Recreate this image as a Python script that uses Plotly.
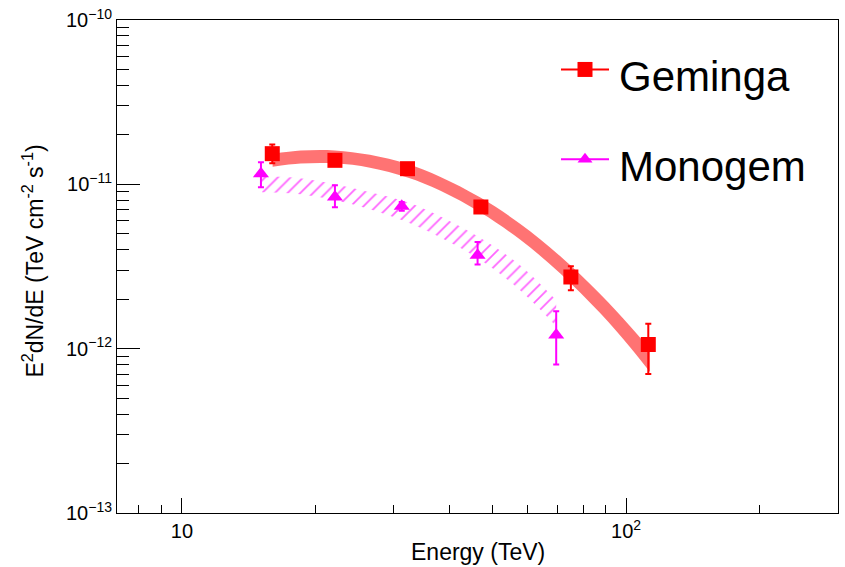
import plotly.graph_objects as go
import math

# ---------------- data ----------------
gem_E = [15.97, 22.1, 32.2, 47.1, 75.1, 112.2]
gem_F = [1.537e-11, 1.40e-11, 1.245e-11, 7.28e-12, 2.73e-12, 1.06e-12]
gem_err_up = [0.21e-11, 0.08e-11, 0.07e-11, 0.4e-12, 0.44e-12, 0.36e-12]
gem_err_dn = [0.195e-11, 0.08e-11, 0.07e-11, 0.4e-12, 0.46e-12, 0.36e-12]

mono_E = [15.06, 22.1, 31.25, 46.3, 69.6]
mono_F = [1.161e-11, 8.37e-12, 7.35e-12, 3.70e-12, 1.21e-12]
mono_err_up = [0.20e-11, 1.49e-12, 0.45e-12, 0.76e-12, 0.48e-12]
mono_err_dn = [0.20e-11, 1.12e-12, 0.45e-12, 0.45e-12, 0.41e-12]

# fitted-spectrum bands
gem_band_E = [16.0, 18.5, 22.1, 26.5, 32.2, 38.1, 47.1, 57.7, 71.0, 87.4, 102.1, 113.2]
gem_band_hi = [1.532e-11, 1.605e-11, 1.609e-11, 1.513e-11, 1.328e-11, 1.114e-11,
               8.28e-12, 5.76e-12, 3.66e-12, 2.15e-12, 1.37e-12, 9.93e-13]
gem_band_lo = [1.278e-11, 1.338e-11, 1.342e-11, 1.262e-11, 1.099e-11, 9.16e-12,
               6.71e-12, 4.61e-12, 2.88e-12, 1.648e-12, 1.021e-12, 7.20e-13]

mono_band_E = [15.14, 18.45, 22.1, 26.5, 32.2, 38.1, 47.1, 57.7, 69.6]
mono_band_hi = [1.118e-11, 1.088e-11, 1.0e-11, 8.94e-12, 7.77e-12, 6.39e-12,
                4.70e-12, 3.22e-12, 1.97e-12]
mono_band_lo = [8.94e-12, 8.69e-12, 7.99e-12, 7.05e-12, 5.87e-12, 4.76e-12,
                3.45e-12, 2.27e-12, 1.37e-12]

x_major = [10, 100]
x_major_text = ["10", "10<sup>2</sup>"]
x_minor = [8, 9, 20, 30, 40, 50, 60, 70, 80, 90, 200]
y_major = [1e-13, 1e-12, 1e-11, 1e-10]
y_major_text = ["10<sup>\u221213</sup>", "10<sup>\u221212</sup>",
                "10<sup>\u221211</sup>", "10<sup>\u221210</sup>"]
y_minor = [m * 10.0 ** e for e in (-13, -12, -11) for m in range(2, 10)]

series_names = ["Geminga", "Monogem"]
RED = "#ff0000"
MAG = "#ff00ff"
FONT = "Liberation Sans, Arial, Helvetica, sans-serif"

fig = go.Figure()

# Geminga band (solid)
fig.add_trace(go.Scatter(x=gem_band_E, y=gem_band_lo, mode="lines",
                         line=dict(width=0, shape="spline", color=RED),
                         showlegend=False, hoverinfo="skip"))
fig.add_trace(go.Scatter(x=gem_band_E, y=gem_band_hi, mode="lines",
                         line=dict(width=0, shape="spline", color=RED),
                         fill="tonexty", fillcolor="rgba(255,0,0,0.55)",
                         showlegend=False, hoverinfo="skip"))

# Monogem band (hatched)
fig.add_trace(go.Scatter(x=mono_band_E, y=mono_band_lo, mode="lines",
                         line=dict(width=0, shape="spline", color=MAG),
                         showlegend=False, hoverinfo="skip"))
fig.add_trace(go.Scatter(x=mono_band_E, y=mono_band_hi, mode="lines",
                         line=dict(width=0, shape="spline", color=MAG),
                         fill="tonexty", fillcolor="rgba(255,0,255,0.55)",
                         fillpattern=dict(shape="/", size=9, solidity=0.2,
                                          fgcolor="rgba(255,0,255,0.6)",
                                          bgcolor="rgba(255,255,255,0)",
                                          fillmode="replace"),
                         showlegend=False, hoverinfo="skip"))

# data points
fig.add_trace(go.Scatter(x=gem_E, y=gem_F, mode="markers", name=series_names[0],
                         marker=dict(symbol="square", size=15, color=RED),
                         error_y=dict(type="data", symmetric=False, array=gem_err_up,
                                      arrayminus=gem_err_dn, color=RED, thickness=2, width=3),
                         showlegend=False))
fig.add_trace(go.Scatter(x=mono_E, y=mono_F, mode="markers", name=series_names[1],
                         marker=dict(symbol="triangle-up", size=14, color=MAG),
                         error_y=dict(type="data", symmetric=False, array=mono_err_up,
                                      arrayminus=mono_err_dn, color=MAG, thickness=2, width=3),
                         showlegend=False))

# manual legend on an overlay unit axis
leg_x0, leg_x1 = 0.6158, 0.6824
leg_y = [0.8997, 0.7173]
leg_colors = [RED, MAG]
leg_symbols = ["square", "triangle-up"]
leg_sizes = [15, 13]
for i in range(2):
    fig.add_trace(go.Scatter(x=[leg_x0, leg_x1], y=[leg_y[i], leg_y[i]], mode="lines",
                             line=dict(color=leg_colors[i], width=2),
                             xaxis="x2", yaxis="y2", showlegend=False, hoverinfo="skip"))
    fig.add_trace(go.Scatter(x=[(leg_x0 + leg_x1) / 2], y=[leg_y[i]], mode="markers",
                             marker=dict(symbol=leg_symbols[i], size=leg_sizes[i], color=leg_colors[i]),
                             xaxis="x2", yaxis="y2", showlegend=False, hoverinfo="skip"))
    fig.add_annotation(x=0.693, y=leg_y[i] - 0.014, xref="paper", yref="paper",
                       text=series_names[i], showarrow=False, xanchor="left", yanchor="middle",
                       font=dict(family=FONT, size=42, color="black"))

# axis titles
fig.add_annotation(x=0.5, y=-0.079, xref="paper", yref="paper", text="Energy (TeV)",
                   showarrow=False, xanchor="center", yanchor="middle",
                   font=dict(family=FONT, size=23, color="black"))
fig.add_annotation(x=-0.1165, y=0.51, xref="paper", yref="paper",
                   text="E<sup>2</sup>dN/dE (TeV cm<sup>-2</sup> s<sup>-1</sup>)",
                   textangle=-90, showarrow=False, xanchor="center", yanchor="middle",
                   font=dict(family=FONT, size=23, color="black"))

axis_common = dict(showline=True, linecolor="black", linewidth=1, mirror=True,
                   showgrid=False, zeroline=False, ticks="inside", tickcolor="black",
                   tickwidth=1, tickfont=dict(family=FONT, size=20, color="black"))

fig.update_layout(
    width=845, height=567,
    margin=dict(l=117, r=7, t=20, b=54),
    paper_bgcolor="white", plot_bgcolor="white",
    showlegend=False,
    xaxis=dict(type="log", range=[math.log10(7.14), math.log10(300)],
               tickmode="array", tickvals=x_major, ticktext=x_major_text, ticklen=15,
               minor=dict(tickmode="array", tickvals=x_minor, ticks="inside", ticklen=8,
                          tickcolor="black", tickwidth=1, showgrid=False),
               **axis_common),
    yaxis=dict(type="log", range=[-13, -10],
               tickmode="array", tickvals=y_major, ticktext=y_major_text, ticklen=23,
               minor=dict(tickmode="array", tickvals=y_minor, ticks="inside", ticklen=12,
                          tickcolor="black", tickwidth=1, showgrid=False),
               **axis_common),
    xaxis2=dict(overlaying="x", anchor="y2", range=[0, 1], visible=False),
    yaxis2=dict(overlaying="y", anchor="x2", range=[0, 1], visible=False),
)

fig.write_html("out.html")
